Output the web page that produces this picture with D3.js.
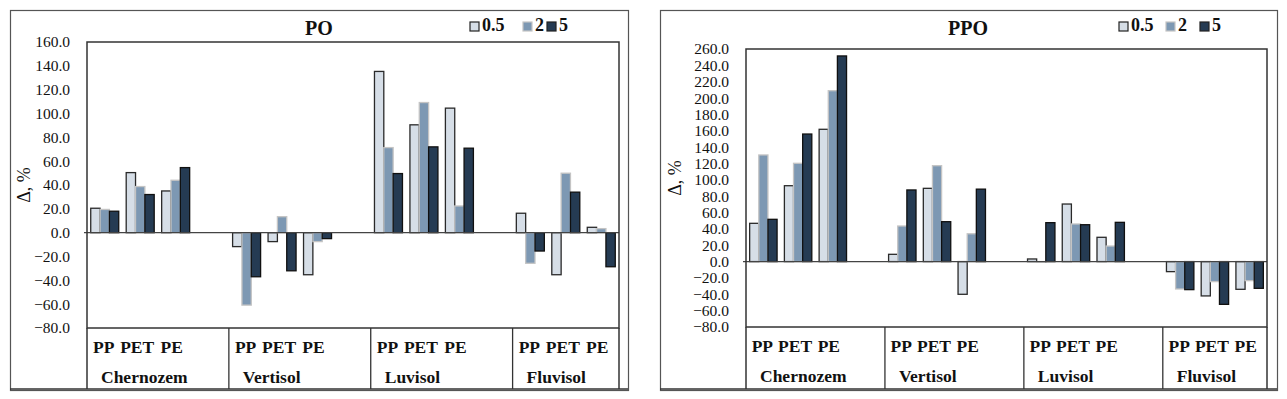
<!DOCTYPE html>
<meta charset="utf-8">
<head>
    <title>PO / PPO</title>
    <script src="https://cdn.jsdelivr.net/npm/d3@7"></script>
    <style>
        body {
            margin: 0;
            background-color: white;
        }
        text {
            font-family: "Liberation Serif", "Times New Roman", "DejaVu Serif", serif;
            fill: #111;
        }
        .tick-label {
            font-size: 15.5px;
        }
        .cat-label {
            font-size: 17.5px;
            font-weight: bold;
        }
        .title {
            font-size: 20px;
            font-weight: bold;
        }
        .legend-label {
            font-size: 18px;
            font-weight: bold;
        }
    </style>
</head>

<body>
    <svg id="svg"></svg>

    <script>
        // categories
        const soils = ['Chernozem', 'Vertisol', 'Luvisol', 'Fluvisol']
        const polymers = ['PP', 'PET', 'PE']
        const doses = ['0.5', '2', '5']

        // PO, % change (order: soil x polymer)
        const po05 = [20.5, 50.4, 35.0, -11.7, -7.5, -35.3, 135.3, 90.5, 104.5, 16.3, -35.3, 4.5]
        const po2 = [19.5, 38.7, 44.0, -60.8, 13.4, -7.5, 71.4, 109.2, 22.4, -25.7, 49.9, 3.4]
        const po5 = [18.0, 32.0, 54.6, -37.0, -32.0, -5.0, 49.6, 72.0, 70.9, -15.4, 34.0, -28.6]

        // PPO, % change
        const ppo05 = [46.8, 92.8, 161.8, 8.9, 89.6, -40.0, 3.2, 70.4, 29.7, -12.3, -42.0, -33.9]
        const ppo2 = [130.4, 120.2, 209.0, 43.5, 117.3, 34.0, -0.9, 46.0, 19.0, -33.5, -24.5, -23.3]
        const ppo5 = [51.7, 156.0, 251.5, 87.6, 48.8, 88.6, 47.6, 45.1, 48.0, -34.3, -52.3, -32.7]

        // tick labels
        const poTicks = [-80, -60, -40, -20, 0, 20, 40, 60, 80, 100, 120, 140, 160]
        const ppoTicks = [-80, -60, -40, -20, 0, 20, 40, 60, 80, 100, 120, 140, 160, 180, 200, 220, 240, 260]

        const fills = ['#d6dee7', '#7d98b3', '#253b53']
        const strokes = ['#2a2a2a', '#c4c4c4', '#101010']

        const W = 1287, H = 399

        let svg = d3.select('#svg')
            .attr('width', W)
            .attr('height', H)
            .style('display', 'block')

        svg.append('rect').attr('width', W).attr('height', H).attr('fill', 'white')

        const panels = [
            {
                title: 'PO', series: [po05, po2, po5], ticks: poTicks,
                frame: [10, 10, 628, 390], plot: { left: 87, right: 619, top: 42, bottom: 328 },
                titleX: 319, legend: [470, 523, 547], yLabel: [30, 185]
            },
            {
                title: 'PPO', series: [ppo05, ppo2, ppo5], ticks: ppoTicks,
                frame: [660, 10, 1277, 390], plot: { left: 746, right: 1267, top: 49, bottom: 327 },
                titleX: 968, legend: [1119, 1166, 1200], yLabel: [681, 178]
            }
        ]

        // small nudges so the polymer labels sit like Excel's
        const polShift = [-1, -3, -4]

        panels.forEach(drawPanel)

        function drawPanel(p) {
            let g = svg.append('g')
            let pl = p.plot
            let tableBottom = p.frame[3] - 1

            // outer frame
            g.append('rect')
                .attr('x', p.frame[0] + 0.5).attr('y', p.frame[1] + 0.5)
                .attr('width', p.frame[2] - p.frame[0]).attr('height', p.frame[3] - p.frame[1])
                .attr('fill', 'white').attr('stroke', '#555').attr('stroke-width', 1.2)

            // 15 slots: each soil gets 4 slots (3 polymers + gap), last one only 3
            let slots = []
            soils.forEach((s, i) => {
                polymers.forEach((pol) => slots.push(s + '|' + pol))
                if (i < soils.length - 1) slots.push(s + '|gap')
            })

            let x0 = d3.scaleBand().domain(slots).range([pl.left, pl.right])
            let x1 = d3.scaleBand().domain(doses).range([0, x0.bandwidth()]).paddingOuter(0.4)

            let y = d3.scaleLinear()
                .domain([p.ticks[0], p.ticks[p.ticks.length - 1]])
                .range([pl.bottom, pl.top])

            // tick labels (no tick marks)
            let axis = d3.axisLeft(y).tickValues(p.ticks).tickSize(0).tickPadding(17)
                .tickFormat(d3.format('.1f'))
            let ax = g.append('g').attr('transform', `translate(${pl.left},0)`).call(axis)
            ax.attr('font-family', null).attr('font-size', null)
            ax.select('.domain').remove()
            ax.selectAll('text')
                .attr('class', 'tick-label')
                .attr('fill', '#111')

            // y label
            g.append('text')
                .attr('transform', `translate(${p.yLabel[0]},${p.yLabel[1]}) rotate(-90)`)
                .attr('text-anchor', 'middle')
                .style('font-size', '18px')
                .text('Δ, %')

            // bars
            let rows = []
            p.series.forEach((vals, si) => {
                vals.forEach((v, k) => {
                    let soil = soils[Math.floor(k / 3)]
                    let pol = polymers[k % 3]
                    rows.push({ key: soil + '|' + pol, dose: doses[si], si: si, v: v })
                })
            })

            g.append('g').selectAll('rect')
                .data(rows)
                .enter()
                .append('rect')
                .attr('x', (d) => x0(d.key) + x1(d.dose))
                .attr('width', x1.bandwidth())
                .attr('y', (d) => y(Math.max(0, d.v)))
                .attr('height', (d) => Math.abs(y(d.v) - y(0)))
                .attr('fill', (d) => fills[d.si])
                .attr('stroke', (d) => strokes[d.si])
                .attr('stroke-width', 1.3)

            // zero line
            g.append('line')
                .attr('x1', pl.left - 3).attr('x2', pl.right)
                .attr('y1', y(0)).attr('y2', y(0))
                .attr('stroke', '#444').attr('stroke-width', 1.3)

            // plot area border
            g.append('rect')
                .attr('x', pl.left).attr('y', pl.top)
                .attr('width', pl.right - pl.left).attr('height', pl.bottom - pl.top)
                .attr('fill', 'none').attr('stroke', '#333').attr('stroke-width', 1.5)

            // category table
            g.append('line')
                .attr('x1', pl.left).attr('x2', pl.left)
                .attr('y1', pl.bottom).attr('y2', tableBottom)
                .attr('stroke', '#333').attr('stroke-width', 1.5)
            g.append('line')
                .attr('x1', pl.right).attr('x2', pl.right)
                .attr('y1', pl.bottom).attr('y2', tableBottom)
                .attr('stroke', '#333').attr('stroke-width', 1.5)
            g.append('line')
                .attr('x1', p.frame[0]).attr('x2', p.frame[2])
                .attr('y1', tableBottom).attr('y2', tableBottom)
                .attr('stroke', '#333').attr('stroke-width', 1.5)

            soils.forEach((s, i) => {
                if (i > 0) {
                    let xd = x0(s + '|PP')
                    g.append('line')
                        .attr('x1', xd).attr('x2', xd)
                        .attr('y1', pl.bottom).attr('y2', tableBottom)
                        .attr('stroke', '#333').attr('stroke-width', 1.3)
                }
                polymers.forEach((pol, j) => {
                    g.append('text')
                        .attr('class', 'cat-label')
                        .attr('x', x0(s + '|' + pol) + x0.bandwidth() / 2 + polShift[j])
                        .attr('y', pl.bottom + 25)
                        .attr('text-anchor', 'middle')
                        .text(pol)
                })
                g.append('text')
                    .attr('class', 'cat-label')
                    .attr('x', x0(s + '|PP') + 14)
                    .attr('y', pl.bottom + 55)
                    .text(s)
            })

            // title
            g.append('text')
                .attr('class', 'title')
                .attr('x', p.titleX).attr('y', 35)
                .attr('text-anchor', 'middle')
                .text(p.title)

            // legend
            doses.forEach((d, i) => {
                let lx = p.legend[i]
                g.append('rect')
                    .attr('x', lx).attr('y', 22)
                    .attr('width', 9).attr('height', 9)
                    .attr('fill', fills[i])
                    .attr('stroke', i == 1 ? '#c4c4c4' : '#222')
                    .attr('stroke-width', 1.2)
                g.append('text')
                    .attr('class', 'legend-label')
                    .attr('x', lx + 12).attr('y', 31)
                    .text(d)
            })
        }
    </script>
</body>
</html>
